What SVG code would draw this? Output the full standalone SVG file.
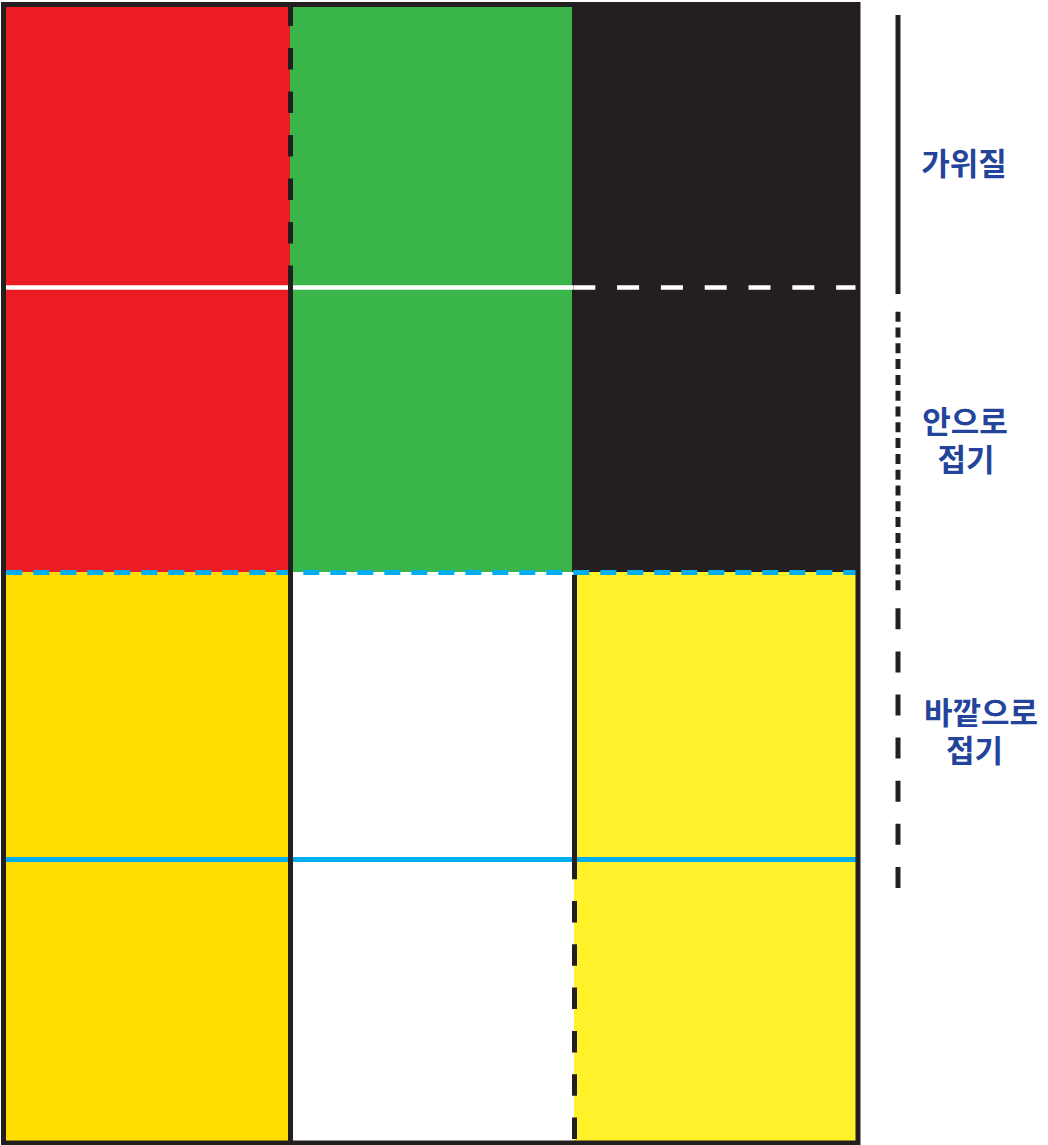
<svg xmlns="http://www.w3.org/2000/svg" width="1048" height="1145" viewBox="0 0 1048 1145">
  <style>
    .dk { stroke: #231F20; stroke-width: 5; fill: none; }
    .wh { stroke: #FFFFFF; stroke-width: 4.5; fill: none; }
    .bl { stroke: #00AEEF; stroke-width: 5; fill: none; }
    .lbl { font-family: "Noto Sans CJK KR", "Noto Sans", sans-serif; font-weight: bold; font-size: 31px; fill: #24439A; text-anchor: middle; }
  </style>
  <rect x="0" y="0" width="1048" height="1145" fill="#FFFFFF"/>
  <g id="cells">
    <rect id="cell-red" x="4" y="4" width="287" height="569" fill="#ED1C24"/>
    <rect id="cell-green" x="290" y="4" width="283" height="569" fill="#39B54A"/>
    <rect id="cell-black" x="572" y="4" width="286" height="569" fill="#231F20"/>
    <rect id="cell-gold" x="4" y="572" width="287" height="571" fill="#FFDD00"/>
    <rect id="cell-white" x="290" y="572" width="285" height="571" fill="#FFFFFF"/>
    <rect id="cell-yellow" x="574" y="572" width="284" height="571" fill="#FFF22A"/>
  </g>
  <g id="connectors">
    <line class="wh" x1="4" y1="287.5" x2="573" y2="287.5"/>
    <line class="wh" x1="573.3" y1="287.5" x2="856" y2="287.5" stroke-dasharray="22 21.8"/>
    <line class="bl" x1="6.3" y1="572.5" x2="856" y2="572.5" stroke-dasharray="16 11"/>
    <line class="bl" x1="4" y1="859.5" x2="856" y2="859.5"/>
    <line class="dk" x1="290.5" y1="4.5" x2="290.5" y2="287" stroke-dasharray="21.5 22"/>
    <line class="dk" x1="290.5" y1="287" x2="290.5" y2="1143"/>
    <line class="dk" x1="574.5" y1="575" x2="574.5" y2="858"/>
    <line class="dk" x1="574.5" y1="857.7" x2="574.5" y2="1143" stroke-dasharray="21.5 21.8"/>
    <rect class="dk" x="3.5" y="4.5" width="854.5" height="1138.5" stroke-width="6"/>
  </g>
  <g id="legend-cut">
    <line class="dk" x1="898" y1="15" x2="898" y2="294"/>
    <text class="lbl" x="964" y="175">가위질</text>
  </g>
  <g id="legend-inside">
    <line class="dk" x1="898" y1="311.7" x2="898" y2="591" stroke-dasharray="10 5.8"/>
    <text class="lbl" x="965" y="433">안으로</text>
    <text class="lbl" x="966" y="471">접기</text>
  </g>
  <g id="legend-outside">
    <line class="dk" x1="898" y1="608.3" x2="898" y2="888" stroke-dasharray="21 22.1"/>
    <text class="lbl" x="981" y="724">바깥으로</text>
    <text class="lbl" x="974.5" y="762">접기</text>
  </g>
</svg>
